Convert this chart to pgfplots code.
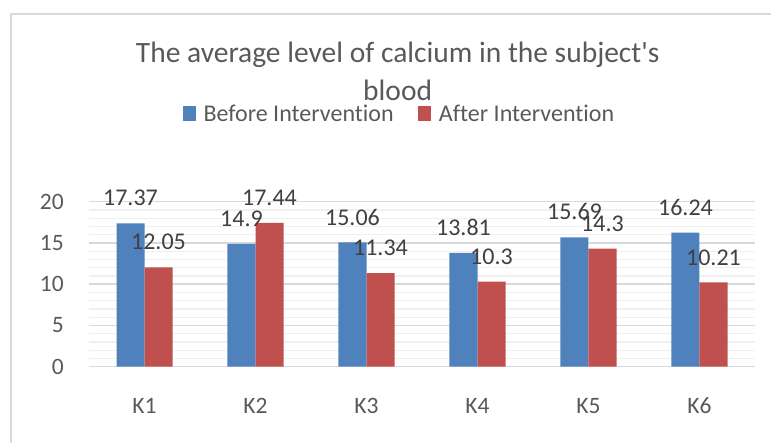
\documentclass[border=0pt]{standalone}
\usepackage{fontspec}
\setmainfont{Carlito}[Ligatures=NoCommon]
\usepackage{pgfplots}
\pgfplotsset{compat=1.18}
\definecolor{serA}{HTML}{4F81BD}
\definecolor{serB}{HTML}{C0504D}
\definecolor{txt}{HTML}{595959}
\definecolor{lbl}{HTML}{404040}
\definecolor{majg}{HTML}{D9D9D9}
\definecolor{ming}{HTML}{F0F0F0}

\begin{document}
\begin{tikzpicture}[x=1pt,y=1pt]
\path[use as bounding box] (0,0) rectangle (771,443);
\draw[majg, line width=2pt] (11,0) -- (11,429) -- (771,429);
\begin{axis}[
    at={(89pt,76.3pt)}, anchor=south west,
    scale only axis, width=666pt, height=165pt,
    xmin=0.5, xmax=6.5, ymin=0, ymax=20,
    ybar=0pt, bar width=28pt,
    clip=false,
    axis line style={draw=none},
    major tick length=0pt, minor tick length=0pt,
    xtick={1,...,6}, xticklabels={K1,K2,K3,K4,K5,K6},
    ytick={0,5,...,20}, minor y tick num=4,
    ymajorgrids, yminorgrids,
    major grid style={majg, line width=1.5pt},
    minor grid style={ming, line width=1.2pt},
    /pgf/number format/assume math mode=true,
    ticklabel style={font=\fontsize{23.5}{28}\selectfont, text=txt},
    xticklabel style={anchor=base, inner sep=0pt, yshift=-47pt},
    yticklabel style={anchor=east, inner sep=0pt, xshift=-25pt},
    nodes near coords={\pgfmathprintnumber{\pgfplotspointmeta}},
    nodes near coords style={font=\fontsize{24}{28}\selectfont, text=lbl, anchor=base, inner sep=0pt, yshift=17.4pt},
    title={The average level of calcium in the subject\textquotesingle s\\blood},
    title style={at={(0.4635,1.5764)}, anchor=base, align=center, inner sep=0pt,
        font=\fontsize{29.5}{38}\selectfont, text=txt},
    legend columns=2,
    legend image code/.code={\fill[#1, draw=none] (0pt,-6.6pt) rectangle (13.4pt,7.7pt);},
    legend style={at={(0.1401,1.5315)}, anchor=west, draw=none, fill=none, inner sep=0pt,
        font=\fontsize{24}{28}\selectfont, text=txt, column sep=7.6pt,
        nodes={inner sep=0pt},
        /tikz/every even column/.append style={column sep=24.3pt}},
]
\addplot[fill=serA, draw=none] coordinates {(1,17.37) (2,14.9) (3,15.06) (4,13.81) (5,15.69) (6,16.24)};
\addplot[fill=serB, draw=none] coordinates {(1,12.05) (2,17.44) (3,11.34) (4,10.3) (5,14.3) (6,10.21)};
\legend{Before Intervention, After Intervention}
\end{axis}
\end{tikzpicture}
\end{document}
